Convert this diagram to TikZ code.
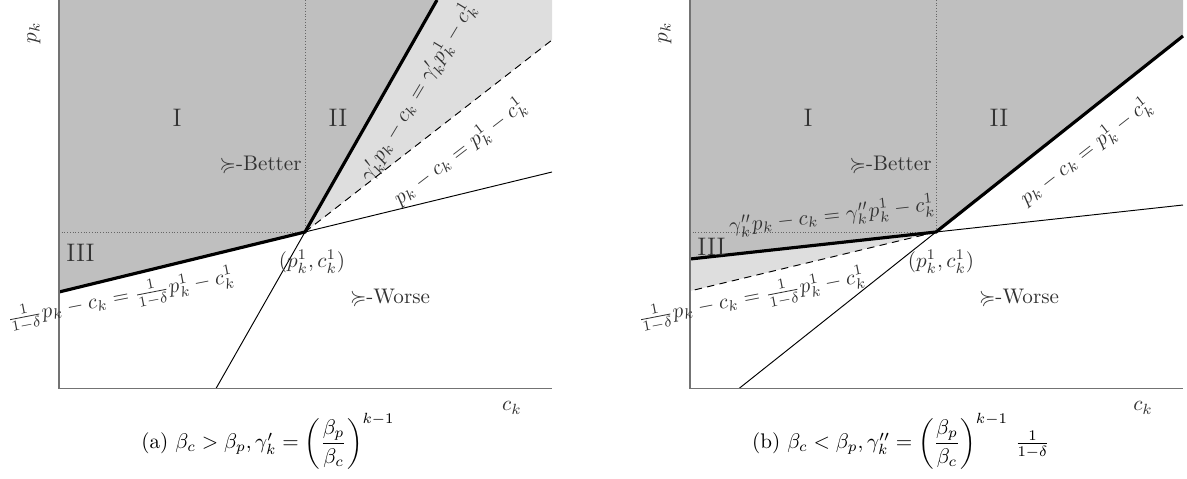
\documentclass[tikz,border=0pt]{standalone}
\usepackage{amsmath,amssymb}
\begin{document}
\begin{tikzpicture}[x=0.01664cm, y=-0.01664cm,
		axis/.style={line width=0.6pt, black!55},
		guide/.style={line width=0.3pt, black!60, densely dotted},
		bound/.style={line width=1.5pt},
		ray/.style={line width=0.45pt},
		gap/.style={line width=0.45pt, dash pattern=on 3.5pt off 2.5pt},
		region/.style={fill=black!25},
		band/.style={fill=black!13},
		txt/.style={text=black!80, inner sep=0pt}]
		
		\useasboundingbox (0,0) rectangle (1187,478);
		
		% ----- (a) beta_c > beta_p -----
		\coordinate (Pa) at (305,232);
		
		% Bereiche
		\fill[region] (59,0) -- (437,0) -- (Pa) -- (59,292) -- cycle;
		\fill[band] (437,0) -- (552,0) -- (552,40) -- (Pa) -- cycle;
		
		% Hilfslinien
		\draw[guide] (305,0) -- (Pa);
		\draw[guide] (59,232) -- (Pa);
		
		% Geraden
		\draw[ray] (216,388.5) -- (Pa);
		\draw[ray] (Pa) -- (552,172);
		\draw[gap] (Pa) -- (552,40);
		\draw[bound] (437,0) -- (Pa) -- (59,292);
		
		% Achsen
		\draw[axis] (59,0) -- (59,388.5) -- (552,388.5);
		\node[txt, rotate=90] (pa) at (34,33) {$p_k$};
		\node[txt] (ca) at (512,408) {$c_k$};
		
		% Beschriftung
		\node[txt] (Ia) at (177,118) {\large I};
		\node[txt] (IIa) at (338,118) {\large II};
		\node[txt, anchor=west] (IIIa) at (66,253) {\large III};
		\node[txt, anchor=east] (ba) at (302,165) {$\succcurlyeq$-Better};
		\node[txt] (wa) at (390,298) {$\succcurlyeq$-Worse};
		\node[txt] (pta) at (312,262) {$(p_k^1,c_k^1)$};
		\node[txt, rotate=59] (ga) at (418,92) {$\gamma'_k p_k - c_k = \gamma'_k p_k^1 - c_k^1$};
		\node[txt, rotate=37.5] (da) at (460,152) {$p_k - c_k = p_k^1 - c_k^1$};
		\node[txt, rotate=11] (fa) at (121,299) {$\frac{1}{1-\delta}p_k - c_k = \frac{1}{1-\delta}p_k^1 - c_k^1$};
		
		\node (capa) at (268,441) {(a) $\beta_c > \beta_p, \gamma'_k = \left(\dfrac{\beta_p}{\beta_c}\right)^{k-1}$};
		
		% ----- (b) beta_c < beta_p -----
		\begin{scope}[shift={(631,0)}]
			
			\coordinate (Pb) at (305,232);
			
			% Bereiche
			\fill[region] (59,0) -- (552,0) -- (552,36) -- (Pb) -- (59,259) -- cycle;
			\fill[band] (59,259) -- (Pb) -- (59,291) -- cycle;
			
			% Hilfslinien
			\draw[guide] (305,0) -- (Pb);
			\draw[guide] (59,232) -- (Pb);
			
			% Geraden
			\draw[ray] (108,388.5) -- (Pb);
			\draw[ray] (Pb) -- (552,205);
			\draw[gap] (Pb) -- (59,291);
			\draw[bound] (552,36) -- (Pb) -- (59,259);
			
			% Achsen
			\draw[axis] (59,0) -- (59,388.5) -- (552,388.5);
			\node[txt, rotate=90] (pb) at (34,33) {$p_k$};
			\node[txt] (cb) at (512,408) {$c_k$};
			
			% Beschriftung
			\node[txt] (Ib) at (177,118) {\large I};
			\node[txt] (IIb) at (368,118) {\large II};
			\node[txt, anchor=west] (IIIb) at (66,247) {\large III};
			\node[txt, anchor=east] (bb) at (301,165) {$\succcurlyeq$-Better};
			\node[txt] (wb) at (388,298) {$\succcurlyeq$-Worse};
			\node[txt] (ptb) at (310,262) {$(p_k^1,c_k^1)$};
			\node[txt, rotate=38] (gb) at (455,152) {$p_k - c_k = p_k^1 - c_k^1$};
			\node[txt, rotate=6.3] (hb) at (201,216) {$\gamma''_k p_k - c_k = \gamma''_k p_k^1 - c_k^1$};
			\node[txt, rotate=11] (fb) at (121,299) {$\frac{1}{1-\delta}p_k - c_k = \frac{1}{1-\delta}p_k^1 - c_k^1$};
			
			\node (capb) at (270,441) {(b) $\beta_c < \beta_p, \gamma''_k = \left(\dfrac{\beta_p}{\beta_c}\right)^{k-1}\,\frac{1}{1-\delta}$};
			
		\end{scope}
		
	\end{tikzpicture}
\end{document}
